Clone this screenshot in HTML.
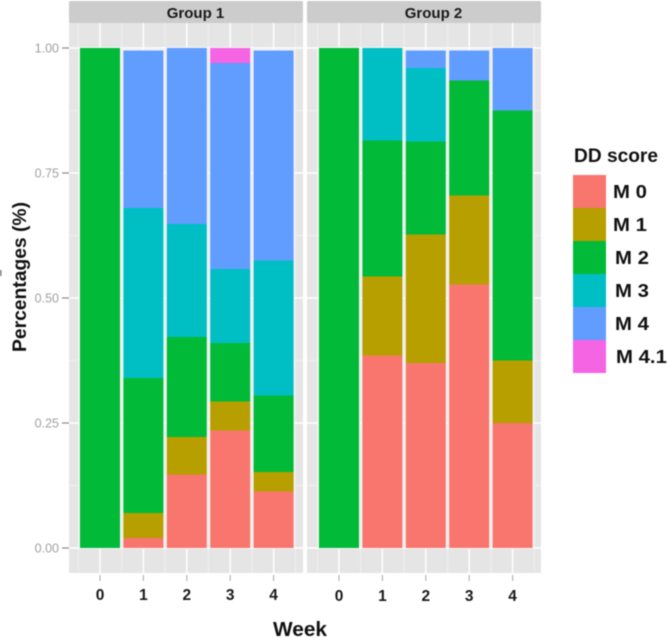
<!DOCTYPE html>
<html>
<head>
<meta charset="utf-8">
<title>DD score by week</title>
<style>
html,body{margin:0;padding:0;background:#fff;width:669px;height:638px;overflow:hidden}
svg{display:block;font-family:"Liberation Sans",sans-serif;filter:blur(0.4px)}
</style>
</head>
<body>
<svg id="chart" width="669" height="638" viewBox="0 0 669 638"></svg>
<script>
const weeks = ["0","1","2","3","4"];
const groups = ["Group 1","Group 2"];
const seriesNames = ["M 0","M 1","M 2","M 3","M 4","M 4.1"];
const seriesColors = ["#F8766D","#B79F00","#00BA38","#00BFC4","#619CFF","#F564E3"];
const yTicks = [0,0.25,0.5,0.75,1];
const yTickLabels = ["0.00","0.25","0.50","0.75","1.00"];

const g1M0 = [0,0.02,0.147,0.235,0.113];
const g1M1 = [0,0.05,0.075,0.058,0.039];
const g1M2 = [1,0.27,0.2,0.117,0.153];
const g1M3 = [0,0.34,0.226,0.148,0.27];
const g1M4 = [0,0.315,0.352,0.412,0.42];
const g1M41 = [0,0,0,0.03,0];

const g2M0 = [0,0.385,0.37,0.527,0.25];
const g2M1 = [0,0.158,0.257,0.178,0.125];
const g2M2 = [1,0.272,0.186,0.23,0.5];
const g2M3 = [0,0.185,0.147,0,0];
const g2M4 = [0,0,0.035,0.06,0.125];
const g2M41 = [0,0,0,0,0];

const group1Values = [g1M0,g1M1,g1M2,g1M3,g1M4,g1M41];
const group2Values = [g2M0,g2M1,g2M2,g2M3,g2M4,g2M41];
const allGroups = [group1Values,group2Values];

const svg = document.getElementById('chart');
const NS = 'http://www.w3.org/2000/svg';
function mk(tag, attrs, parent, txt){
  const e = document.createElementNS(NS, tag);
  for (const k in attrs) e.setAttribute(k, attrs[k]);
  if (txt !== undefined) e.textContent = txt;
  (parent || svg).appendChild(e);
  return e;
}
function widen(t, len){
  t.setAttribute('textLength', len);
  t.setAttribute('lengthAdjust', 'spacingAndGlyphs');
}
const panelLeft = [69,307], panelW = 234, panelTop = 23, panelBottom = 573;
const yScale = v => 548 - v * 500;
const xScale = (p,i) => panelLeft[p] + (p === 0 ? 31 : 32) + i * 43.4;
const barW = 40;

allGroups.forEach((vals,p) => {
  const L = panelLeft[p];
  const strip = mk('rect',{x:L,y:1,width:panelW,height:22,rx:1.5,fill:'#cccccc'});
  
  
  const st = mk('text',{x:L+126.5,y:18,'text-anchor':'middle','font-size':15,'font-weight':'bold',fill:'#1a1a1a'},svg,groups[p]);
  
  
  const bg = mk('rect',{x:L,y:panelTop,width:panelW,height:panelBottom-panelTop,fill:'#e5e5e5'});
  
  
  // minor gridlines
  for (let k=0;k<yTicks.length-1;k++){
    const y = yScale((yTicks[k]+yTicks[k+1])/2);
    mk('line',{x1:L,x2:L+panelW,y1:y,y2:y,stroke:'#f0f0f0','stroke-width':1});
  }
  for (let i=-1;i<weeks.length;i++){
    const x = xScale(p,i+0.5);
    mk('line',{x1:x,x2:x,y1:panelTop,y2:panelBottom,stroke:'#f0f0f0','stroke-width':1});
  }
  // major gridlines
  yTicks.forEach(t => {
    const l = mk('line',{x1:L,x2:L+panelW,y1:yScale(t),y2:yScale(t),stroke:'#ffffff','stroke-width':1.5});
    
    
  });
  weeks.forEach((w,i) => {
    const x = xScale(p,i);
    const l = mk('line',{x1:x,x2:x,y1:panelTop,y2:panelBottom,stroke:'#ffffff','stroke-width':1.5});
    
    
    const tk = mk('line',{x1:x,x2:x,y1:panelBottom+2,y2:panelBottom+8,stroke:'#a8a8a8','stroke-width':1});
    
    
    const tl = mk('text',{x:x,y:p===0?600:601,'text-anchor':'middle','font-size':15.5,'font-weight':'bold',fill:'#1a1a1a'},svg,w);
    
    
  });
  // stacked bars
  weeks.forEach((w,i) => {
    const total = vals.reduce((a,s) => a + s[i], 0);
    const halo = mk('rect',{x:xScale(p,i)-barW/2-1,y:yScale(total)-1,width:barW+2,height:yScale(0)-yScale(total)+1,fill:'#f6f6f6'});
    
    
    let cum = 0;
    vals.forEach((s,k) => {
      const v = s[i];
      if (v > 0){
        const top = yScale(cum + v), bot = yScale(cum);
        const r = mk('rect',{x:xScale(p,i)-barW/2,y:top,width:barW,height:bot-top,fill:seriesColors[k]});
        
        
      }
      cum += v;
    });
  });
});

// y axis
yTicks.forEach((t,i) => {
  const y = yScale(t);
  const tk = mk('line',{x1:62,x2:69,y1:y,y2:y,stroke:'#8a8a8a','stroke-width':1.2});
  
  
  const tl = mk('text',{x:59,y:y+4.5,'text-anchor':'end','font-size':12.5,fill:'#a0a0a0'},svg,yTickLabels[i]);
  
  
});
const yt = mk('text',{transform:'translate(26,277) rotate(-90)','text-anchor':'middle','font-size':19,'font-weight':'bold',fill:'#111'},svg,'Percentages (%)');
widen(yt, 150);


const xt = mk('text',{x:300,y:636,'text-anchor':'middle','font-size':20,'font-weight':'bold',fill:'#111'},svg,'Week');
widen(xt, 54);


const speck = mk('rect',{x:0,y:270,width:1.5,height:6,fill:'#777777'});



// legend
const lt = mk('text',{x:574,y:162,'font-size':19,'font-weight':'bold',fill:'#111'},svg,'DD score');
widen(lt, 84);


const legendTop = 175, legendStep = 33;
seriesNames.forEach((n,i) => {
  const r = mk('rect',{x:573,y:legendTop+i*legendStep,width:33,height:legendStep,fill:seriesColors[i]});
  
  
  const t = mk('text',{x:i===5?616:(i<2?613:615),y:legendTop+i*legendStep+23,'font-size':18.5,'font-weight':'bold',fill:'#111'},svg,n);
  widen(t, t.getComputedTextLength() * 1.1);
  
  
});
</script>
</body>
</html>
